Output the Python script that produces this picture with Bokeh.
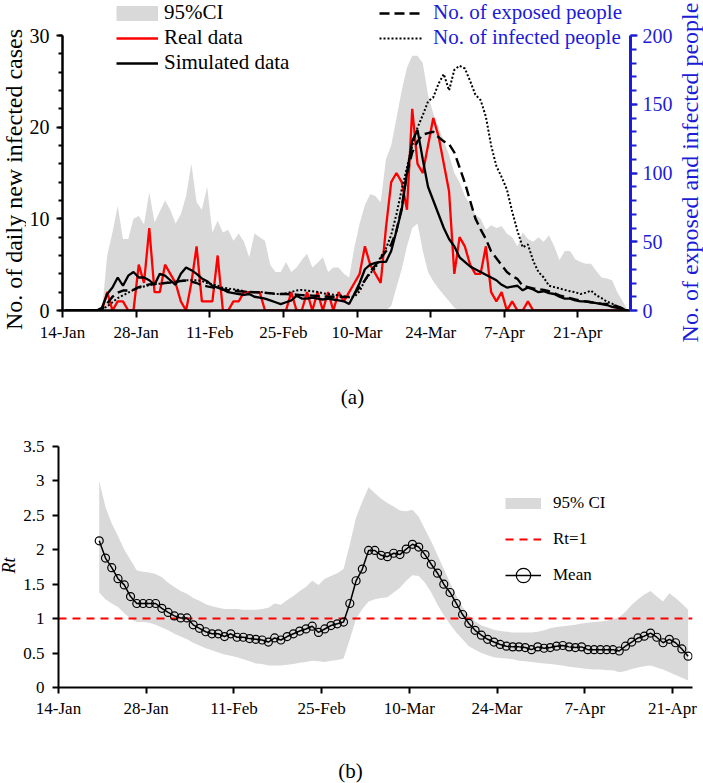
import numpy as np
from bokeh.plotting import figure
from bokeh.models import (Range1d, LinearAxis, FixedTicker, Legend, LegendItem, Label)
from bokeh.layouts import column, row
from bokeh.embed import file_html
from bokeh.resources import INLINE

FONT = "Liberation Serif"
BLUE = "#1c1cd6"
GRAY = "#d9d9d9"

# ---------------- data ----------------
tick_days = [0, 14, 28, 42, 56, 70, 84, 98]
tick_labels = ["14-Jan", "28-Jan", "11-Feb", "25-Feb", "10-Mar", "24-Mar", "7-Apr", "21-Apr"]

# panel (a): daily values, day 0 = 14-Jan
days_a = np.arange(108)
real_cases = [0, 0, 0, 0, 0, 0, 0, 0, 2, 0, 1, 1, 0, 0, 5, 3, 9, 2, 2, 5,
              4, 3, 1, 0, 3, 7, 1, 1, 1, 6, 0, 0, 1, 1, 2, 2, 2, 2, 0, 0,
              0, 0, 0, 2, 0, 0, 2, 0, 2, 0, 2, 0, 2, 1, 2, 3, 4, 7, 5, 4,
              3, 9, 14, 15, 14, 11, 22, 16, 15, 18, 21, 19, 16, 13, 4, 8, 7, 5, 4, 4,
              7, 2, 1, 2, 0, 1, 0, 0, 1, 0, 0, 0, 0, 0, 0, 0, 0, 0, 0, 0,
              0, 0, 0, 0, 0, 0, 0, 0]
sim_cases = [0, 0, 0, 0, 0, 0, 0, 0.3, 1.8, 2.5, 3.6, 2.7, 3.8, 4.2, 3.6, 3.6, 3.3, 2.8, 4.0, 3.8,
             3.3, 2.8, 4.0, 4.7, 4.4, 4.0, 3.5, 3.2, 2.7, 2.5, 2.3, 2.0, 1.9, 1.8, 1.7, 1.8, 1.5, 1.4, 1.3, 1.1,
             0.9, 0.7, 0.9, 1.1, 1.6, 1.3, 1.3, 1.4, 1.3, 1.2, 1.3, 1.2, 1.1, 1.0, 0.7, 1.8, 3.0, 4.5, 5.0, 5.2,
             5.3, 5.3, 6.5, 8.7, 11.0, 15.0, 18.5, 19.7, 16.5, 13.5, 12.0, 10.5, 9.0, 7.8, 7.0, 5.8, 5.3, 4.8, 4.5, 4.2,
             3.9, 3.6, 3.3, 2.8, 2.5, 2.6, 2.7, 2.2, 2.5, 2.3, 2.0, 2.1, 1.9, 1.8, 1.5, 1.3, 1.3, 1.1, 1.0, 1.0,
             0.9, 0.8, 0.7, 0.6, 0.4, 0.3, 0.1, 0.0]
ci_hi_a = [0, 0, 0, 0, 0, 0, 0, 0, 6.0, 8.5, 11.4, 7.8, 7.8, 10.0, 10.3, 9.4, 12.9, 9.6, 10.8, 12.0,
           11.0, 9.5, 10.5, 12.5, 16.0, 11.8, 11.0, 13.5, 8.5, 9.8, 8.5, 8.8, 7.6, 8.4, 7.5, 5.8, 8.4, 8.0, 7.6, 5.0,
           4.2, 4.2, 5.3, 4.2, 4.7, 5.5, 6.2, 4.7, 5.2, 5.8, 4.2, 4.7, 4.7, 4.0, 3.6, 6.9, 9.5, 11.5, 12.7, 12.5,
           11.8, 16.5, 18.0, 21.0, 24.0, 26.5, 27.8, 27.8, 27.0, 23.5, 21.5, 20.0, 18.5, 17.0, 15.0, 14.0, 12.5, 11.6, 10.5, 10.0,
           8.8, 9.3, 9.0, 9.2, 8.4, 8.0, 7.0, 8.5, 7.8, 7.5, 8.0, 7.5, 8.2, 7.0, 5.5, 6.5, 6.5, 5.6, 5.3, 5.1,
           5.1, 4.3, 3.6, 3.5, 3.3, 2.0, 1.0, 0.0]
ci_lo_a = [0] * 62 + [0.5, 2.5, 4.5, 7.0, 9.0, 9.5, 6.5, 4.2, 3.2, 2.4, 1.7, 1.0, 0.3] + [0] * 33
exposed = [0, 0, 0, 0, 0, 0, 0, 1, 5, 10, 13, 14.5, 14.5, 15, 17, 18, 19, 19.4, 19.5, 20,
           20.3, 20.6, 21.5, 21.8, 21, 20, 18.5, 17.5, 16.8, 16, 15.3, 14.8, 14.5, 14, 13.8, 13.5, 13.3, 13, 12.8, 12.5,
           12.2, 12, 12, 11.8, 11.5, 11.2, 11, 10.8, 10.5, 10.3, 10, 10, 10, 9.8, 9.7, 12, 17, 22, 28, 33,
           38, 43, 48, 58, 75, 100, 115, 123, 128, 129, 130, 126, 123, 121, 115, 104, 93, 80, 67, 59,
           52, 43, 38, 33, 28, 25, 23, 18, 17, 16, 15.5, 15, 14, 12.5, 11, 10, 9, 8, 7.3, 6.5,
           6, 5.5, 5, 4.8, 4, 3, 1.5, 0]
infected = [0, 0, 0, 0, 0, 0, 0, 1, 3, 6, 9, 11, 13, 15, 16.5, 17.5, 18.5, 19, 19.5, 20,
            20.5, 21, 21.5, 22, 22, 22, 21.5, 20, 19, 18, 16.5, 16, 15.5, 15, 14, 13.5, 13.5, 13.5, 13, 12.5,
            12, 12, 12.5, 13.5, 14.5, 15, 14.5, 14, 13.5, 12.5, 12, 11.5, 11, 10.5, 10, 10, 14, 22, 27, 31,
            39, 45, 55, 70, 88, 104, 120, 133, 142, 152, 155, 165, 172, 160, 175, 178, 176, 167, 157, 153,
            141, 120, 105, 97, 88, 72, 58, 46, 48, 36, 28, 24, 18, 17, 16, 15, 14, 13.3, 12, 13,
            14.5, 11, 9, 6.5, 5, 3, 1.5, 0]

# panel (b): Rt, days 6..100 after 14-Jan
rt_days = np.arange(6, 101)
rt_mean = [2.13, 1.88, 1.74, 1.58, 1.49, 1.32, 1.22, 1.22, 1.22, 1.22, 1.15, 1.09, 1.04, 1.01, 1.01,
           0.91, 0.86, 0.81, 0.78, 0.78, 0.74, 0.78, 0.73, 0.73, 0.71, 0.70, 0.69, 0.66, 0.72, 0.69,
           0.74, 0.78, 0.82, 0.85, 0.89, 0.80, 0.85, 0.90, 0.925, 0.95, 1.22, 1.55, 1.72, 1.99, 1.99,
           1.92, 1.90, 1.95, 1.93, 2.01, 2.08, 2.04, 1.93, 1.79, 1.66, 1.50, 1.38, 1.22, 1.06, 0.93,
           0.83, 0.76, 0.70, 0.66, 0.625, 0.60, 0.59, 0.59, 0.58, 0.55, 0.59, 0.57, 0.58, 0.60, 0.61,
           0.59, 0.58, 0.59, 0.55, 0.55, 0.55, 0.55, 0.55, 0.53, 0.60, 0.66, 0.72, 0.745, 0.79, 0.73,
           0.65, 0.70, 0.65, 0.56, 0.455]
rt_hi = [3.0, 2.62, 2.38, 2.2, 2.0, 1.85, 1.70, 1.68, 1.67, 1.65, 1.60, 1.52, 1.46, 1.40, 1.36,
         1.30, 1.26, 1.21, 1.18, 1.16, 1.14, 1.14, 1.14, 1.13, 1.13, 1.13, 1.14, 1.16, 1.22, 1.20,
         1.27, 1.33, 1.40, 1.46, 1.55, 1.49, 1.58, 1.62, 1.66, 1.72, 2.08, 2.47, 2.70, 2.91, 2.82,
         2.74, 2.68, 2.63, 2.57, 2.56, 2.58, 2.48, 2.30, 2.12, 1.92, 1.72, 1.52, 1.33, 1.17, 1.05,
         0.96, 0.90, 0.87, 0.84, 0.82, 0.81, 0.80, 0.80, 0.80, 0.80, 0.81, 0.83, 0.86, 0.88, 0.89,
         0.90, 0.91, 0.93, 0.94, 0.95, 0.96, 0.97, 0.99, 1.02, 1.10, 1.20, 1.28, 1.35, 1.40, 1.32,
         1.25, 1.37, 1.30, 1.22, 1.13]
rt_lo = [1.38, 1.28, 1.22, 1.17, 1.08, 1.0, 0.95, 0.95, 0.94, 0.91, 0.87, 0.83, 0.78, 0.74, 0.70,
         0.65, 0.61, 0.57, 0.54, 0.51, 0.48, 0.46, 0.44, 0.41, 0.38, 0.35, 0.34, 0.32, 0.32, 0.32,
         0.33, 0.34, 0.36, 0.37, 0.39, 0.38, 0.37, 0.39, 0.40, 0.42, 0.70, 1.0, 1.14, 1.25, 1.28,
         1.30, 1.31, 1.38, 1.45, 1.55, 1.63, 1.62, 1.52, 1.38, 1.20, 1.05, 0.92, 0.80, 0.70, 0.60,
         0.55, 0.50, 0.47, 0.44, 0.43, 0.42, 0.41, 0.39, 0.38, 0.37, 0.36, 0.35, 0.34, 0.33, 0.32,
         0.30, 0.29, 0.28, 0.27, 0.26, 0.26, 0.25, 0.25, 0.22, 0.24, 0.27, 0.29, 0.31, 0.32, 0.29,
         0.26, 0.22, 0.18, 0.14, 0.10]
rt_threshold = 1.0
rt_ticks = [0, 0.5, 1, 1.5, 2, 2.5, 3, 3.5]
rt_tick_labels = ["0", "0.5", "1", "1.5", "2", "2.5", "3", "3.5"]

CASES_MAX = 30
PEOPLE_MAX = 200


def text_panel(width, height, text, x, y, size, angle=0, color="black", style="normal"):
    """A blank svg figure that only carries one text label."""
    f = figure(width=width, height=height, output_backend="svg", toolbar_location=None,
               x_axis_type=None, y_axis_type=None,
               x_range=Range1d(0, 1), y_range=Range1d(0, 1),
               min_border_left=0, min_border_right=0, min_border_top=0, min_border_bottom=0)
    f.outline_line_color = None
    f.grid.visible = False
    f.add_layout(Label(x=x, y=y, x_units="screen", y_units="screen", text=text,
                       angle=angle, angle_units="deg", text_align="center", text_baseline="middle",
                       text_font=FONT, text_font_size=size, text_color=color,
                       text_font_style=style))
    return f


# ---------------- panel (a) ----------------
xa = days_a + 0.5  # each day is centred between ticks
H_A = 350
FRAME_A_H = 310      # frame runs from the top of the canvas down to the x axis
PLOT_A_H = 275       # height used by 0..30

pa = figure(width=651, height=H_A, output_backend="svg", toolbar_location=None,
            x_range=Range1d(0, 108),
            y_range=Range1d(0, CASES_MAX * FRAME_A_H / PLOT_A_H),
            min_border_left=35, min_border_right=47, min_border_top=0, min_border_bottom=40)
pa.outline_line_color = None
pa.grid.visible = False
pa.extra_y_ranges = {"people": Range1d(0, PEOPLE_MAX * FRAME_A_H / PLOT_A_H)}

pa.varea(x=xa, y1=ci_lo_a, y2=ci_hi_a, fill_color=GRAY)
r_real = pa.line(xa, real_cases, line_color="#ff0000", line_width=2.3)
r_sim = pa.line(xa, sim_cases, line_color="black", line_width=2.3)
r_exp = pa.line(xa, exposed, y_range_name="people", line_color="black", line_width=2.4, line_dash="10 5")
r_inf = pa.line(xa, infected, y_range_name="people", line_color="black", line_width=2, line_dash="2 2")
r_ci_leg = pa.line(x=[np.nan], y=[np.nan], line_color=GRAY, line_width=15, line_cap="butt")

xa_axis = pa.xaxis[0]
xa_axis.ticker = FixedTicker(ticks=tick_days, minor_ticks=[])
xa_axis.major_label_overrides = {d: lab for d, lab in zip(tick_days, tick_labels)}
ya_axis = pa.yaxis[0]
ya_axis.ticker = FixedTicker(ticks=[0, 10, 20, 30], minor_ticks=list(range(0, 31, 2)))
ya_axis.bounds = (0, CASES_MAX)

for ax in (xa_axis, ya_axis):
    ax.axis_line_color = "black"
    ax.axis_line_width = 2.5
    ax.major_tick_line_color = "black"
    ax.major_tick_line_width = 2
    ax.minor_tick_line_color = "black"
    ax.minor_tick_line_width = 2
    ax.major_tick_in = 0
    ax.minor_tick_in = 0
    ax.major_label_text_font = FONT
    ax.major_label_text_color = "black"

xa_axis.major_tick_out = 7
xa_axis.major_label_text_font_size = "17px"
xa_axis.major_label_standoff = 5
ya_axis.major_tick_out = 6
ya_axis.minor_tick_out = 4
ya_axis.major_label_text_font_size = "20px"
ya_axis.major_label_standoff = 7

ra = LinearAxis(y_range_name="people",
                ticker=FixedTicker(ticks=[0, 50, 100, 150, 200], minor_ticks=list(range(0, 201, 10))))
ra.bounds = (0, PEOPLE_MAX)
ra.axis_line_color = BLUE
ra.axis_line_width = 3
ra.major_tick_line_color = BLUE
ra.major_tick_line_width = 2
ra.minor_tick_line_color = BLUE
ra.minor_tick_line_width = 2
ra.major_tick_in = 0
ra.minor_tick_in = 0
ra.major_tick_out = 7
ra.minor_tick_out = 6
ra.major_label_text_font = FONT
ra.major_label_text_font_size = "20px"
ra.major_label_text_color = BLUE
ra.major_label_standoff = 5
pa.add_layout(ra, "right")

leg1 = Legend(items=[LegendItem(label="95%CI", renderers=[r_ci_leg]),
                     LegendItem(label="Real data", renderers=[r_real]),
                     LegendItem(label="Simulated data", renderers=[r_sim])],
              location=(54, 235), glyph_width=42, glyph_height=24, label_height=24,
              label_standoff=6, spacing=0, padding=0, margin=0,
              border_line_color=None, background_fill_alpha=0,
              label_text_font=FONT, label_text_font_size="21px", label_text_color="black")
pa.add_layout(leg1)
leg2 = Legend(items=[LegendItem(label="No. of exposed people", renderers=[r_exp]),
                     LegendItem(label="No. of infected people", renderers=[r_inf])],
              location=(317, 260), glyph_width=44, glyph_height=24, label_height=24,
              label_standoff=10, spacing=0, padding=0, margin=0,
              border_line_color=None, background_fill_alpha=0,
              label_text_font=FONT, label_text_font_size="21px", label_text_color=BLUE)
pa.add_layout(leg2)

left_title = text_panel(26, H_A, "No. of daily new infected cases", 13, H_A - 179, "24px", angle=90)
right_title = text_panel(26, H_A, "No. of exposed and infected people", 12, H_A - 172, "24px",
                         angle=90, color=BLUE)
cap_a = text_panel(703, 70, "(a)", 352, 24, "21px")

# ---------------- panel (b) ----------------
xb = rt_days + 0.5
H_B = 307

pb = figure(width=683, height=H_B, output_backend="svg", toolbar_location=None,
            x_range=Range1d(0, 101.2), y_range=Range1d(0, 3.5),
            min_border_left=36, min_border_right=11, min_border_top=26, min_border_bottom=40)
pb.outline_line_color = None
pb.grid.visible = False

pb.varea(x=xb, y1=rt_lo, y2=rt_hi, fill_color=GRAY)
pb.hspan(y=[rt_threshold], line_color="#ff0000", line_width=2, line_dash="8 6")
r_mean_line = pb.line(xb, rt_mean, line_color="black", line_width=1.5)
r_mean_pts = pb.scatter(xb, rt_mean, marker="circle", size=8, line_color="black",
                        line_width=1.2, fill_color=None)
r_ci_b_leg = pb.line(x=[np.nan], y=[np.nan], line_color=GRAY, line_width=11, line_cap="butt")
r_thr_leg = pb.line(x=[np.nan], y=[np.nan], line_color="#ff0000", line_width=2, line_dash="8 6")

xb_axis = pb.xaxis[0]
xb_axis.ticker = FixedTicker(ticks=tick_days, minor_ticks=[])
xb_axis.major_label_overrides = {d: lab for d, lab in zip(tick_days, tick_labels)}
yb_axis = pb.yaxis[0]
yb_axis.ticker = FixedTicker(ticks=rt_ticks, minor_ticks=[])
yb_axis.major_label_overrides = {t: lab for t, lab in zip(rt_ticks, rt_tick_labels)}
for ax in (xb_axis, yb_axis):
    ax.axis_line_color = "black"
    ax.axis_line_width = 2
    ax.major_tick_line_color = "black"
    ax.major_tick_line_width = 2
    ax.minor_tick_line_color = None
    ax.major_tick_in = 0
    ax.major_tick_out = 6
    ax.major_label_text_font = FONT
    ax.major_label_text_font_size = "17px"
    ax.major_label_text_color = "black"
xb_axis.major_label_standoff = 5
yb_axis.major_label_standoff = 8

leg_b = Legend(items=[LegendItem(label="95% CI", renderers=[r_ci_b_leg]),
                      LegendItem(label="Rt=1", renderers=[r_thr_leg]),
                      LegendItem(label="Mean", renderers=[r_mean_line, r_mean_pts])],
               location=(447, 94), glyph_width=36, glyph_height=36, label_height=36,
               label_standoff=12, spacing=0, padding=0, margin=0,
               border_line_color=None, background_fill_alpha=0,
               label_text_font=FONT, label_text_font_size="17px", label_text_color="black")
pb.add_layout(leg_b)

rt_title = text_panel(20, H_B, "Rt", 8, H_B - 145, "18px", angle=90, style="italic")
cap_b = text_panel(703, 56, "(b)", 350, 13, "21px")

# each plot is wrapped on its own so that Bokeh does not align the plot frames
layout = column(row(column(left_title), pa, column(right_title)),
                row(cap_a),
                row(column(rt_title), pb),
                row(cap_b))
open("out.html", "w").write(file_html(layout, INLINE))
